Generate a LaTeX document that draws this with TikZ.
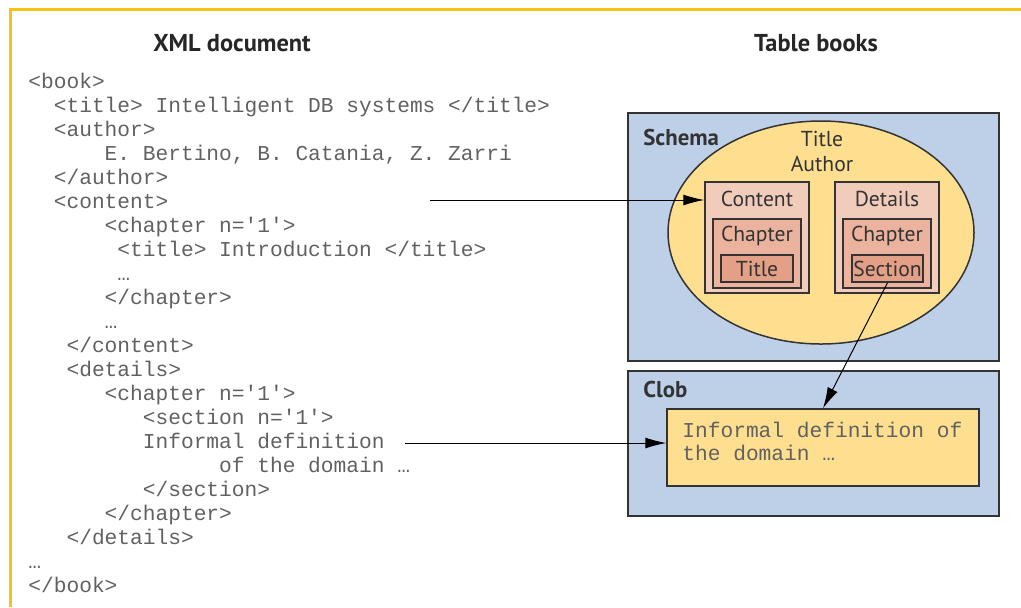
\documentclass[tikz,border=0pt]{standalone}
\usepackage{fontspec}
\setsansfont{PT Sans}
\setmonofont{Liberation Mono}
\usepackage{xcolor}
\usetikzlibrary{arrows.meta,shapes.geometric}
\definecolor{frameyel}{RGB}{246,196,20}
\definecolor{tblblue}{RGB}{190,208,232}
\definecolor{ellyel}{RGB}{253,223,143}
\definecolor{pinka}{RGB}{242,204,186}
\definecolor{pinkb}{RGB}{235,178,158}
\definecolor{pinkc}{RGB}{227,160,134}
\definecolor{inkc}{RGB}{51,51,51}
\newcommand{\sq}{\textquotesingle}

\begin{document}
\begin{tikzpicture}[x=0.5pt,y=-0.5pt,>={Latex[length=10.5pt,width=5.5pt]},
  box/.style={draw=inkc,line width=0.75pt,inner sep=0pt},
  xml/.style={font=\ttfamily\fontsize{10.6}{12}\selectfont,text=black!62,anchor=base west,inner sep=0pt},
  lbl/.style={font=\sffamily\fontsize{10.8}{12}\selectfont,text=inkc,inner sep=0pt},
  hd/.style={font=\sffamily\bfseries\fontsize{12.2}{14}\selectfont,text=black!85,inner sep=0pt},
  arr/.style={->,line width=0.5pt,black}]
  \useasboundingbox (0,0) rectangle (1021,607);
  \draw[frameyel,line width=1.5pt] (10,607) -- (10,9) -- (1021,9);
  % headings
  \node[hd] (hxml) at (232,43) {XML document};
  \node[hd] (htbl) at (816,43) {Table books};
  % XML listing: line / indent / text
  \foreach \i/\ind/\txt in {1/0/{<book>},2/2/{<title> Intelligent DB systems </title>},3/2/{<author>},
    4/6/{E. Bertino, B. Catania, Z. Zarri},5/2/{</author>},6/2/{<content>},7/6/{<chapter n=\sq1\sq>},
    8/7/{<title> Introduction </title>},9/7/{…},10/6/{</chapter>},11/6/{…},12/3/{</content>},
    13/3/{<details>},14/6/{<chapter n=\sq1\sq>},15/9/{<section n=\sq1\sq>},16/9/{Informal definition},
    17/15/{of the domain …},18/9/{</section>},19/6/{</chapter>},20/3/{</details>},21/0/{…},22/0/{</book>}}
    \node[xml] (x\i) at ({28+12.72*\ind},{88+24*(\i-1)}) {\txt};
  % table books
  \node[box,fill=tblblue,minimum width=185.5pt,minimum height=124pt] (schema) at (813.5,237) {};
  \node[box,fill=tblblue,minimum width=185.5pt,minimum height=72.5pt] (clob) at (813.5,443.5) {};
  \node[lbl,font=\sffamily\bfseries\fontsize{11.4}{13}\selectfont,anchor=west] (schemal) at (643,138) {Schema};
  \node[lbl,font=\sffamily\bfseries\fontsize{11.4}{13}\selectfont,anchor=west] (clobl) at (643,390) {Clob};
  \node[box,ellipse,fill=ellyel,minimum width=153pt,minimum height=111.5pt] (ell) at (821,232.5) {};
  \node[lbl] (etitle) at (822,139) {Title};
  \node[lbl] (eauthor) at (822,164) {Author};
  \node[box,fill=pinka,minimum width=52pt,minimum height=55.5pt] (cont) at (757,237.5) {};
  \node[box,fill=pinkb,minimum width=44pt,minimum height=34.5pt] (cchap) at (757,253.5) {};
  \node[box,fill=pinkc,minimum width=36pt,minimum height=13.5pt,lbl] (ctitle) at (757,268.5) {Title};
  \node[lbl] (contl) at (757,199) {Content};
  \node[lbl] (cchapl) at (757,236) {Chapter};
  \node[box,fill=pinka,minimum width=52pt,minimum height=55.5pt] (det) at (887,237.5) {};
  \node[box,fill=pinkb,minimum width=44pt,minimum height=34.5pt] (dchap) at (887,253.5) {};
  \node[box,fill=pinkc,minimum width=35.5pt,minimum height=13.5pt,lbl] (dsect) at (887.5,268.5) {Section};
  \node[lbl] (detl) at (887,199) {Details};
  \node[lbl] (dchapl) at (887,236) {Chapter};
  \node[box,fill=ellyel,minimum width=156pt,minimum height=38.5pt] (clobtxt) at (823,447.5) {};
  \node[xml] (clobla) at (682,437) {Informal definition of};
  \node[xml] (cloblb) at (682,460) {the domain …};
  % connectors
  \coordinate (cstart) at (430,200);
  \coordinate (istart) at (405,443);
  \draw[arr] (cstart) -- (cont.west |- cstart);
  \draw[arr] (istart) -- (clobtxt.west |- istart);
  \draw[arr] (dsect.south) -- (clobtxt.north);
\end{tikzpicture}
\end{document}
